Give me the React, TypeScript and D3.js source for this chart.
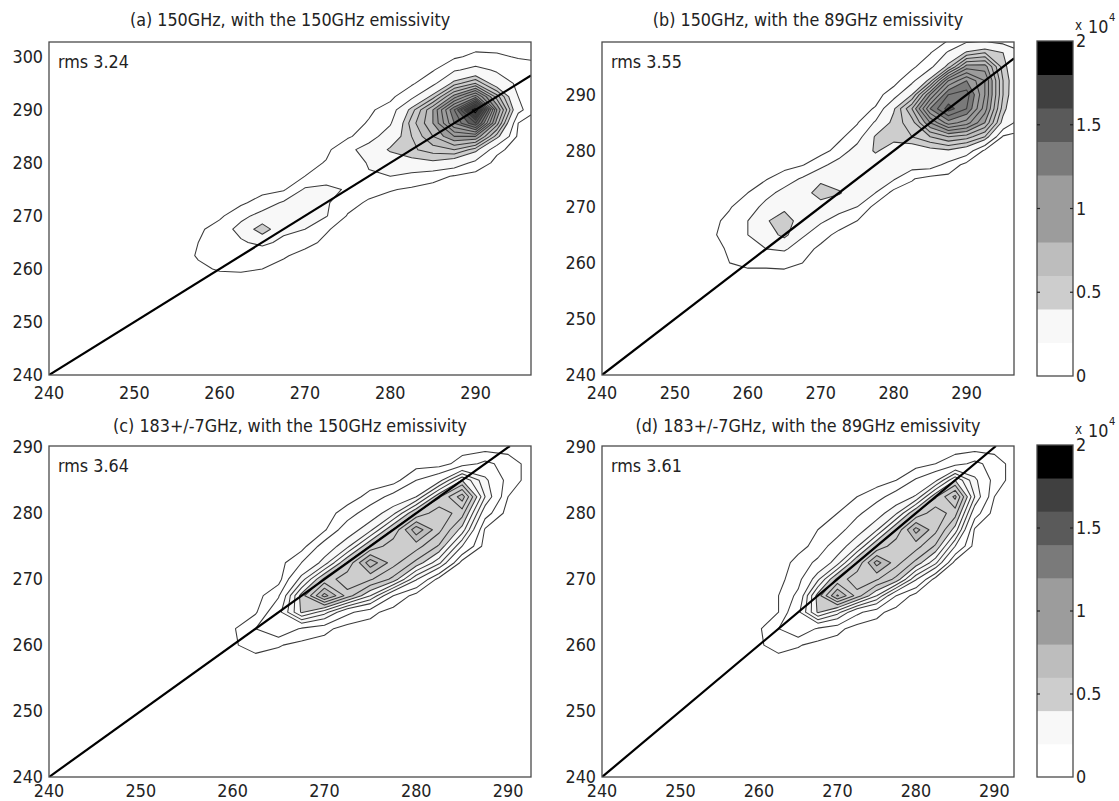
import React from 'react';
import * as d3 from 'd3';

// ---------------- data ----------------
const STEP = 2.5; // grid spacing (K) of the count histograms

const TITLES = [
  '(a) 150GHz, with the 150GHz emissivity',
  '(b) 150GHz, with the 89GHz emissivity',
  '(c) 183+/-7GHz, with the 150GHz emissivity',
  '(d) 183+/-7GHz, with the 89GHz emissivity',
];
const RMS = ['rms 3.24', 'rms 3.55', 'rms 3.64', 'rms 3.61'];

const X_TICKS = [240, 250, 260, 270, 280, 290];
const Y_TICKS_A = [240, 250, 260, 270, 280, 290, 300];
const Y_TICKS = [240, 250, 260, 270, 280, 290];
const CB_TICKS = [0, 0.5, 1, 1.5, 2];
const CB_TICK_LABELS = ['0', '0.5', '1', '1.5', '2'];
const CB_BANDS = [0, 0.2, 0.4, 0.6, 0.8, 1.0, 1.2, 1.4, 1.6, 1.8];
const GRAYS = ['#ffffff', '#f8f8f8', '#cdcdcd', '#bdbdbd', '#9c9c9c', '#9c9c9c', '#7a7a7a', '#5a5a5a', '#404040', '#000000'];

// contour levels (x 10^4 counts)
const LEVELS_A = [0.05, 0.2, 0.4, 0.5, 0.6, 0.7, 0.8, 0.9, 1.0, 1.1, 1.2, 1.3, 1.4, 1.5, 1.6, 1.7, 1.8, 1.9];
const LEVELS_B = [0.05, 0.2, 0.4, 0.5, 0.6, 0.7, 0.8, 0.9, 1.0, 1.1, 1.2, 1.3, 1.4];
const LEVELS_C = [0.03, 0.1, 0.2, 0.27, 0.34, 0.41, 0.48, 0.55, 0.62, 0.69];
const LEVELS_D = [0.03, 0.1, 0.2, 0.27, 0.34, 0.41, 0.48, 0.55, 0.62, 0.69];

// grids: columns x = X0 + i*STEP, rows from y = YTOP downward
const A_X0 = 255, A_YTOP = 302.5;
const GRID_A = [
  [0, 0, 0, 0, 0, 0, 0, 0, 0, 0, 0, 0, 0, 0, 0, 0, 0, 0],
  [0, 0, 0, 0, 0, 0, 0, 0, 0, 0, 0, 0, 0, .03, .08, .07, .04, .03],
  [0, 0, 0, 0, 0, 0, 0, 0, 0, 0, 0, 0, .04, .18, .25, .18, .12, .09],
  [0, 0, 0, 0, 0, 0, 0, 0, 0, 0, 0, .03, .15, .45, .6, .3, .17, .09],
  [0, 0, 0, 0, 0, 0, 0, 0, 0, 0, .02, .15, .45, .85, 1.15, .65, .2, .07],
  [0, 0, 0, 0, 0, 0, 0, 0, 0, .03, .1, .45, .8, 1.3, 1.95, .9, .25, .04],
  [0, 0, 0, 0, 0, 0, 0, 0, 0, .06, .18, .55, .8, 1.2, 1.5, .75, .05, .02],
  [0, 0, 0, 0, 0, 0, 0, 0, .03, .12, .3, .5, .7, .9, .9, .45, .02, 0],
  [0, 0, 0, 0, 0, 0, 0, .02, .15, .28, .42, .48, .55, .6, .45, .08, 0, 0],
  [0, 0, 0, 0, 0, 0, 0, .06, .07, .22, .3, .35, .37, .3, .15, .01, 0, 0],
  [0, 0, 0, 0, 0, 0, .05, .1, .12, .18, .2, .15, .09, .04, 0, 0, 0, 0],
  [0, 0, 0, 0, 0, .03, .22, .25, .18, .1, .06, .03, .01, 0, 0, 0, 0, 0],
  [0, 0, 0, .02, .12, .22, .22, .22, .1, .03, 0, 0, 0, 0, 0, 0, 0, 0],
  [0, 0, .02, .16, .25, .24, .25, .21, .04, 0, 0, 0, 0, 0, 0, 0, 0, 0],
  [0, .02, .12, .25, .5, .24, .2, .06, .01, 0, 0, 0, 0, 0, 0, 0, 0, 0],
  [0, .05, .15, .18, .24, .16, .08, .03, 0, 0, 0, 0, 0, 0, 0, 0, 0, 0],
  [0, .06, .12, .1, .09, .06, .02, 0, 0, 0, 0, 0, 0, 0, 0, 0, 0, 0],
  [0, .03, .06, .06, .05, .02, 0, 0, 0, 0, 0, 0, 0, 0, 0, 0, 0, 0],
  [0, 0, 0, .02, .01, 0, 0, 0, 0, 0, 0, 0, 0, 0, 0, 0, 0, 0],
  [0, 0, 0, 0, 0, 0, 0, 0, 0, 0, 0, 0, 0, 0, 0, 0, 0, 0],
];

const B_X0 = 255, B_YTOP = 300;
const GRID_B = [
  [0, 0, 0, 0, 0, 0, 0, 0, 0, 0, 0, 0, 0, .03, .12, .12, .08, .05],
  [0, 0, 0, 0, 0, 0, 0, 0, 0, 0, 0, 0, .04, .22, .42, .5, .4, .22],
  [0, 0, 0, 0, 0, 0, 0, 0, 0, 0, 0, .02, .15, .45, .85, .85, .45, .2],
  [0, 0, 0, 0, 0, 0, 0, 0, 0, 0, 0, .15, .45, 1.0, 1.2, 1.0, .5, .2],
  [0, 0, 0, 0, 0, 0, 0, 0, 0, 0, .12, .4, .9, 1.3, 1.35, 1.0, .5, .18],
  [0, 0, 0, 0, 0, 0, 0, 0, 0, .06, .38, .7, 1.2, 1.45, 1.3, .95, .45, .15],
  [0, 0, 0, 0, 0, 0, 0, 0, .04, .22, .45, .55, .9, 1.15, 1.05, .8, .35, .1],
  [0, 0, 0, 0, 0, 0, 0, .02, .12, .42, .45, .5, .6, .7, .65, .5, .03, .02],
  [0, 0, 0, 0, 0, 0, 0, .1, .28, .42, .32, .3, .35, .38, .3, .02, 0, 0],
  [0, 0, 0, 0, 0, .04, .15, .28, .3, .3, .3, .28, .28, .15, 0, 0, 0, 0],
  [0, 0, 0, .04, .12, .22, .35, .3, .28, .25, .22, .06, 0, 0, 0, 0, 0, 0],
  [0, 0, .05, .15, .25, .3, .5, .42, .28, .2, 0, 0, 0, 0, 0, 0, 0, 0],
  [0, .04, .12, .25, .35, .3, .3, .25, .2, 0, 0, 0, 0, 0, 0, 0, 0, 0],
  [.02, .08, .2, .38, .5, .3, .22, .15, .05, 0, 0, 0, 0, 0, 0, 0, 0, 0],
  [.03, .1, .2, .3, .45, .22, .12, 0, 0, 0, 0, 0, 0, 0, 0, 0, 0, 0],
  [0, .07, .14, .2, .22, .12, .01, 0, 0, 0, 0, 0, 0, 0, 0, 0, 0, 0],
  [0, .05, .08, .08, .09, .05, 0, 0, 0, 0, 0, 0, 0, 0, 0, 0, 0, 0],
  [0, 0, 0, 0, 0, 0, 0, 0, 0, 0, 0, 0, 0, 0, 0, 0, 0, 0],
  [0, 0, 0, 0, 0, 0, 0, 0, 0, 0, 0, 0, 0, 0, 0, 0, 0, 0],
];

const C_X0 = 257.5, C_YTOP = 292.5;
const GRID_C = [
  [0, 0, 0, 0, 0, 0, 0, 0, 0, 0, 0, 0, 0, 0, 0],
  [0, 0, 0, 0, 0, 0, 0, 0, 0, 0, 0, 0, 0, 0, 0],
  [0, 0, 0, 0, 0, 0, 0, 0, 0, 0, 0, .06, .12, .07, 0],
  [0, 0, 0, 0, 0, 0, 0, 0, 0, .1, .17, .41, .22, .07, 0],
  [0, 0, 0, 0, 0, 0, 0, .05, .13, .2, .47, .66, .27, .03, 0],
  [0, 0, 0, 0, 0, 0, .06, .15, .25, .49, .6, .51, .14, 0, 0],
  [0, 0, 0, 0, 0, .02, .15, .25, .49, .74, .57, .38, .02, 0, 0],
  [0, 0, 0, 0, 0, .14, .25, .49, .6, .58, .47, .2, 0, 0, 0],
  [0, 0, 0, 0, .1, .23, .49, .74, .58, .46, .29, 0, 0, 0, 0],
  [0, 0, 0, 0, .23, .5, .6, .56, .46, .21, 0, 0, 0, 0, 0],
  [0, 0, 0, .09, .44, .72, .52, .34, .1, 0, 0, 0, 0, 0, 0],
  [0, 0, .02, .17, .42, .3, .12, .05, 0, 0, 0, 0, 0, 0, 0],
  [0, .02, .1, .17, .09, .05, 0, 0, 0, 0, 0, 0, 0, 0, 0],
  [0, .02, .06, .035, .01, 0, 0, 0, 0, 0, 0, 0, 0, 0, 0],
  [0, 0, 0, 0, 0, 0, 0, 0, 0, 0, 0, 0, 0, 0, 0],
];

const D_X0 = 257.5, D_YTOP = 292.5;
const GRID_D = [
  [0, 0, 0, 0, 0, 0, 0, 0, 0, 0, 0, 0, 0, 0, 0],
  [0, 0, 0, 0, 0, 0, 0, 0, 0, 0, 0, 0, 0, 0, 0],
  [0, 0, 0, 0, 0, 0, 0, 0, 0, 0, .03, .07, .12, .07, 0],
  [0, 0, 0, 0, 0, 0, 0, 0, .03, .11, .18, .41, .22, .07, 0],
  [0, 0, 0, 0, 0, 0, .03, .07, .14, .21, .47, .64, .27, .03, 0],
  [0, 0, 0, 0, 0, .03, .08, .16, .26, .49, .6, .51, .14, 0, 0],
  [0, 0, 0, 0, .03, .06, .16, .26, .49, .72, .57, .38, .02, 0, 0],
  [0, 0, 0, .01, .05, .15, .26, .49, .6, .58, .47, .2, 0, 0, 0],
  [0, 0, 0, .05, .12, .24, .49, .72, .58, .46, .29, 0, 0, 0, 0],
  [0, 0, .01, .07, .25, .5, .6, .56, .46, .21, 0, 0, 0, 0, 0],
  [0, 0, .03, .12, .44, .7, .52, .34, .1, 0, 0, 0, 0, 0, 0],
  [0, 0, .03, .18, .42, .3, .12, .05, 0, 0, 0, 0, 0, 0, 0],
  [0, .02, .1, .17, .09, .05, 0, 0, 0, 0, 0, 0, 0, 0, 0],
  [0, .02, .06, .035, .01, 0, 0, 0, 0, 0, 0, 0, 0, 0, 0],
  [0, 0, 0, 0, 0, 0, 0, 0, 0, 0, 0, 0, 0, 0, 0],
];

// ---------------- layout ----------------
const FONT = '"DejaVu Sans", Verdana, sans-serif';
const FS = 16;
const TEXT_COLOR = '#222';

const PANELS = [
  { title: TITLES[0], rms: RMS[0], grid: GRID_A, x0: A_X0, yTop: A_YTOP, levels: LEVELS_A,
    left: 49, right: 531, top: 42, bottom: 375, xDom: [240, 296.5], yDom: [240, 302.8], yTicks: Y_TICKS_A, titleY: 26, xLabY: 24 },
  { title: TITLES[1], rms: RMS[1], grid: GRID_B, x0: B_X0, yTop: B_YTOP, levels: LEVELS_B,
    left: 602, right: 1014, top: 42, bottom: 375, xDom: [240, 296.5], yDom: [240, 299.4], yTicks: Y_TICKS, titleY: 26, xLabY: 24 },
  { title: TITLES[2], rms: RMS[2], grid: GRID_C, x0: C_X0, yTop: C_YTOP, levels: LEVELS_C,
    left: 49, right: 531, top: 446, bottom: 777, xDom: [240, 292.5], yDom: [240, 290.2], yTicks: Y_TICKS, titleY: 432, xLabY: 20 },
  { title: TITLES[3], rms: RMS[3], grid: GRID_D, x0: D_X0, yTop: D_YTOP, levels: LEVELS_D,
    left: 602, right: 1014, top: 446, bottom: 777, xDom: [240, 292.5], yDom: [240, 290.2], yTicks: Y_TICKS, titleY: 432, xLabY: 20 },
];

const COLORBARS = [
  { left: 1037, right: 1073, top: 41, bottom: 376 },
  { left: 1037, right: 1073, top: 445, bottom: 777 },
];

function bandColor(t: number) {
  return GRAYS[Math.max(0, Math.min(9, Math.floor(t / 0.2 + 1e-6)))];
}

function Txt({ x, y, children, anchor = 'start', size = FS, stretch = 1.13 }: any) {
  return (
    <text transform={`translate(${x},${y}) scale(1,${stretch})`} textAnchor={anchor}
      fontSize={size} fontFamily={FONT} fill={TEXT_COLOR}>{children}</text>
  );
}

function Panel({ p, idx }: { p: any; idx: number }) {
  const sx = d3.scaleLinear().domain(p.xDom).range([p.left, p.right]);
  const sy = d3.scaleLinear().domain(p.yDom).range([p.bottom, p.top]);
  const m = p.grid.length;
  const n = p.grid[0].length;
  const values = p.grid.flat();
  const contours = d3.contours().size([n, m]).thresholds(p.levels)(values);
  const x0 = p.x0, yTop = p.yTop;
  const tr = d3.geoTransform({
    point: function (gx: number, gy: number) {
      (this as any).stream.point(sx(x0 + (gx - 0.5) * STEP), sy(yTop - (gy - 0.5) * STEP));
    },
  });
  const path = d3.geoPath(tr as any);
  const clipId = `clip${idx}`;
  const dEnd = Math.min(p.xDom[1], p.yDom[1]);
  return (
    <g>
      <defs>
        <clipPath id={clipId}>
          <rect x={p.left} y={p.top} width={p.right - p.left} height={p.bottom - p.top} />
        </clipPath>
      </defs>
      <rect x={p.left} y={p.top} width={p.right - p.left} height={p.bottom - p.top} fill="#fff" />
      <g clipPath={`url(#${clipId})`}>
        {contours.map((c: any, i: number) => (
          <path key={i} d={path(c) || ''} fill={bandColor(c.value)} fillRule="evenodd"
            stroke="#3a3a3a" strokeWidth={1.05} strokeLinejoin="round" />
        ))}
        <line x1={sx(240)} y1={sy(240)} x2={sx(dEnd)} y2={sy(dEnd)} stroke="#000" strokeWidth={2.2} />
      </g>
      <rect x={p.left} y={p.top} width={p.right - p.left} height={p.bottom - p.top}
        fill="none" stroke="#4a4a4a" strokeWidth={1.3} />
      {X_TICKS.map((t) => (
        <Txt key={'x' + t} x={sx(t)} y={p.bottom + p.xLabY} anchor="middle">{t}</Txt>
      ))}
      {p.yTicks.map((t: number) => (
        <Txt key={'y' + t} x={p.left - 6} y={sy(t) + 6} anchor="end">{t}</Txt>
      ))}
      <Txt x={(p.left + p.right) / 2} y={p.titleY} anchor="middle">{p.title}</Txt>
      <Txt x={p.left + 9} y={p.top + 26}>{p.rms}</Txt>
    </g>
  );
}

function ColorBar({ c }: { c: any }) {
  const sy = d3.scaleLinear().domain([0, 2]).range([c.bottom, c.top]);
  return (
    <g>
      {CB_BANDS.map((b, i) => (
        <rect key={i} x={c.left} y={sy(b + 0.2)} width={c.right - c.left} height={sy(b) - sy(b + 0.2) + 0.5} fill={GRAYS[i]} />
      ))}
      <rect x={c.left} y={c.top} width={c.right - c.left} height={c.bottom - c.top} fill="none" stroke="#4a4a4a" strokeWidth={1.3} />
      {CB_TICKS.filter((t) => t > 0 && t < 2).map((t) => (
        <g key={t}>
          <line x1={c.left} x2={c.left + 3} y1={sy(t)} y2={sy(t)} stroke="#222" strokeWidth={1.2} />
          <line x1={c.right - 3} x2={c.right} y1={sy(t)} y2={sy(t)} stroke="#222" strokeWidth={1.2} />
        </g>
      ))}
      {CB_TICKS.map((t, i) => (
        <Txt key={'l' + t} x={c.right + 3} y={sy(t) + 6}>{CB_TICK_LABELS[i]}</Txt>
      ))}
      <Txt x={c.right + 2} y={c.top - 11} size={12}>x</Txt>
      <Txt x={c.right + 15} y={c.top - 8}>10</Txt>
      <Txt x={c.right + 36} y={c.top - 20} size={10}>4</Txt>
    </g>
  );
}

export default function App() {
  return (
    <svg width={1119} height={801} viewBox="0 0 1119 801"
      style={{ position: 'absolute', left: 0, top: 0, background: '#fff' }}>
      <rect x={0} y={0} width={1119} height={801} fill="#fff" />
      {PANELS.map((p, i) => <Panel key={i} p={p} idx={i} />)}
      {COLORBARS.map((c, i) => <ColorBar key={i} c={c} />)}
    </svg>
  );
}
